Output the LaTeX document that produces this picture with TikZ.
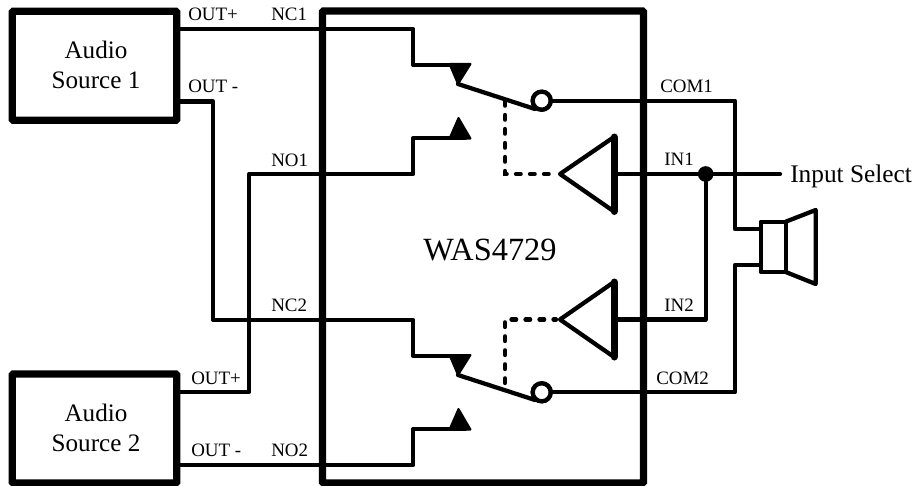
\documentclass[tikz,border=0pt]{standalone}
\usepackage{fontspec}
\setmainfont{Liberation Serif}
\begin{document}
\begin{tikzpicture}[x=0.75pt,y=-0.75pt,
  wire/.style={line width=3.2pt,line join=round,line cap=round},
  blockbox/.style={draw,line width=5.5pt,rounded corners=0.8pt,inner sep=0pt,outer sep=0pt,anchor=north west},
  lbl/.style={font=\fontsize{14.2pt}{16pt}\selectfont,inner sep=0pt},
  src/.style={font=\fontsize{18.85pt}{23pt}\selectfont,align=center,inner sep=0pt},
  tipfill/.style={fill,draw,line width=1.5pt,line join=round},
  ctl/.style={line width=3.2pt,line cap=round,dash pattern=on 3.5pt off 7pt},
  bubble/.style={circle,draw,line width=3.2pt,fill=white,minimum size=13.5pt,inner sep=0pt,outer sep=0pt}]
\useasboundingbox (0,0) rectangle (916,485);
% blocks
\node[blockbox,minimum width=123.4pt,minimum height=81.75pt] (s1) at (12.25,11.25) {};
\node[blockbox,minimum width=123.4pt,minimum height=81.75pt] (s2) at (12.25,374) {};
\node[blockbox,minimum width=240.75pt,minimum height=354pt] (chip) at (322.5,11) {};
\node[src] at (96,65) {Audio\\Source 1};
\node[src] at (96,428) {Audio\\Source 2};
\node[font=\fontsize{24.3pt}{26pt}\selectfont,inner sep=0pt] at (490,250) {WAS4729};
% switch points
\coordinate (c1) at (413.3,65);
\coordinate (o1) at (413.3,138);
\coordinate (c2) at (413.3,356);
\coordinate (o2) at (413.3,429);
\coordinate (p1) at (458,84);
\coordinate (p2) at (458,375);
\node[bubble] (b1) at (541.7,100.7) {};
\node[bubble] (b2) at (541.7,392.3) {};
% wires
\draw[wire] (176.5,29) -- (413.3,29) -- (c1) -- (465,65);
\draw[wire] (176.5,101.5) -- (213.3,101.5) -- (213.3,320) -- (413.3,320) -- (c2) -- (465,356);
\draw[wire] (176.5,392) -- (249.3,392) -- (249.3,174) -- (413.3,174) -- (o1) -- (465,138);
\draw[wire] (176.5,465) -- (413.3,465) -- (o2) -- (465,429);
% contacts
\draw[tipfill] (449.5,64) -- (470.5,64) -- (p1) -- cycle;
\draw[tipfill] (449.5,138.5) -- (470.5,138.5) -- (458.5,118) -- cycle;
\draw[tipfill] (449.5,355) -- (470.5,355) -- (p2) -- cycle;
\draw[tipfill] (449.5,429.5) -- (470.5,429.5) -- (458.5,409) -- cycle;
% arms
\draw[wire] (p1) -- (535,109);
\draw[wire] (p2) -- (535,400);
\node[bubble] at (b1) {};
\node[bubble] at (b2) {};
% outputs and speaker
\coordinate (spk1) at (760.7,229);
\coordinate (spk2) at (760.7,265);
\draw[wire] (b1.east) -- (735,100.7) -- (735,229) -- (spk1);
\draw[wire] (b2.east) -- (735,392.3) -- (735,265) -- (spk2);
\draw[wire] (760.7,221.7) rectangle (785.7,272);
\draw[wire] (785.7,221.7) -- (815.7,210) -- (815.7,284) -- (785.7,272);
% buffers
\draw[wire] (560,174) -- (614,137) -- (614,211.5) -- cycle;
\draw[wire] (560,319.5) -- (614,282) -- (614,357) -- cycle;
\draw[line width=5.25pt,line cap=round] (614,137) -- (614,211.5);
\draw[line width=5.25pt,line cap=round] (614,282) -- (614,357);
\node[circle,fill,minimum size=11.75pt,inner sep=0pt] (dot) at (705.7,174) {};
\draw[wire] (614,174) -- (780,174);
\draw[wire] (dot) -- (705.7,319.5) -- (614,319.5);
% control
\draw[ctl] (505,101) -- (505,174) -- (556,174);
\draw[ctl] (505,383) -- (505,319.5) -- (556,319.5);
% labels
\node[lbl,anchor=base west] at (188,20.5) {OUT+};
\node[lbl,anchor=base west] at (271,20.5) {NC1};
\node[lbl,anchor=base west] at (188,93) {OUT -};
\node[lbl,anchor=base west] at (271,166) {NO1};
\node[lbl,anchor=base west] at (271,311) {NC2};
\node[lbl,anchor=base west] at (191,384) {OUT+};
\node[lbl,anchor=base west] at (191,456.5) {OUT -};
\node[lbl,anchor=base west] at (271,456.5) {NO2};
\node[lbl,anchor=base west] at (660,92) {COM1};
\node[lbl,anchor=base west] at (664,165) {IN1};
\node[lbl,anchor=base west] at (664,311) {IN2};
\node[lbl,anchor=base west] at (656,384) {COM2};
\node[font=\fontsize{19pt}{23pt}\selectfont,inner sep=0pt,anchor=base west] at (790,182) {Input Select};
\end{tikzpicture}
\end{document}
